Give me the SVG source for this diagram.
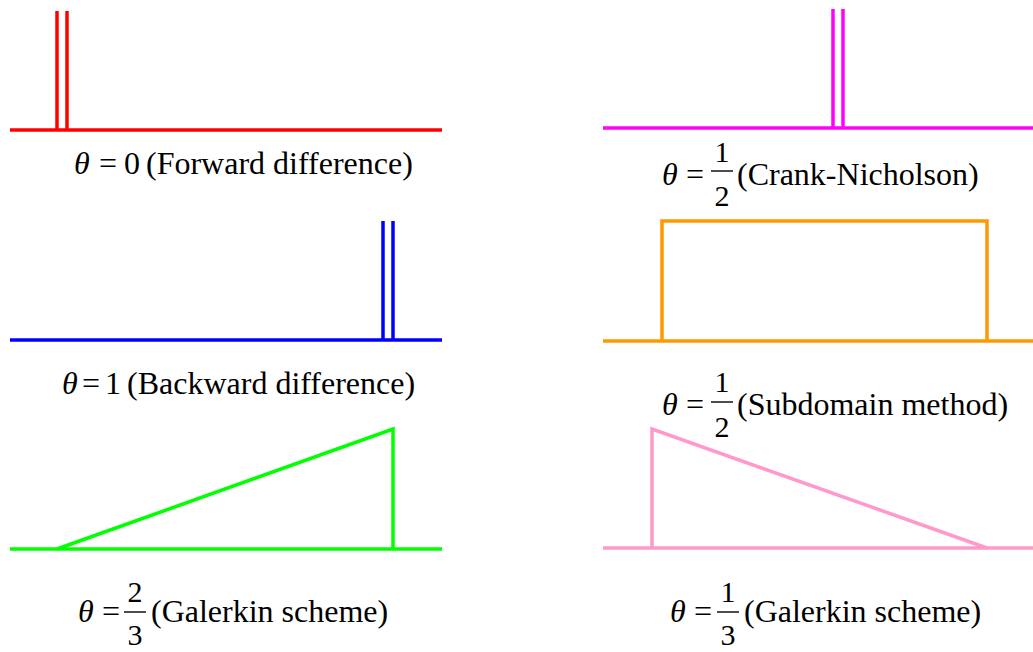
<svg xmlns="http://www.w3.org/2000/svg" width="1033" height="652" viewBox="0 0 1033 652">
<style>
  .ln { fill: none; stroke-width: 3.5; stroke-linecap: butt; stroke-linejoin: miter; }
  .t { font-family: "Liberation Serif", "Times New Roman", serif; font-size: 32px; fill: #000; }
  .th { font-family: "Liberation Serif", "Times New Roman", serif; font-size: 32px; font-style: italic; fill: #000; }
  .fr { font-family: "Liberation Serif", "Times New Roman", serif; font-size: 30px; fill: #000; text-anchor: middle; }
  .bar { stroke: #000; stroke-width: 1.4; }
</style>
<rect width="1033" height="652" fill="#fff"/>

<g id="connectors">
  <g id="plot-forward">
    <line class="ln" stroke="#ff0000" x1="10" y1="130" x2="442" y2="130"/>
    <line class="ln" stroke="#ff0000" x1="57" y1="11" x2="57" y2="130"/>
    <line class="ln" stroke="#ff0000" x1="67" y1="11" x2="67" y2="130"/>
  </g>
  <g id="plot-backward">
    <line class="ln" stroke="#0000ff" x1="10" y1="340" x2="442" y2="340"/>
    <line class="ln" stroke="#0000ff" x1="383" y1="221" x2="383" y2="340"/>
    <line class="ln" stroke="#0000ff" x1="393" y1="221" x2="393" y2="340"/>
  </g>
  <g id="plot-galerkin23">
    <line class="ln" stroke="#00ff00" x1="10" y1="549" x2="442" y2="549"/>
    <polyline class="ln" stroke="#00ff00" points="57,549 393,429 393,549"/>
  </g>
  <g id="plot-crank">
    <line class="ln" stroke="#ff00ff" x1="603" y1="128" x2="1033" y2="128"/>
    <line class="ln" stroke="#ff00ff" x1="833" y1="9" x2="833" y2="128"/>
    <line class="ln" stroke="#ff00ff" x1="843" y1="9" x2="843" y2="128"/>
  </g>
  <g id="plot-subdomain">
    <line class="ln" stroke="#ff9900" x1="603" y1="341" x2="1033" y2="341"/>
    <polyline class="ln" stroke="#ff9900" points="662,341 662,221 987,221 987,341"/>
  </g>
  <g id="plot-galerkin13">
    <line class="ln" stroke="#ff99cc" x1="603" y1="548" x2="1033" y2="548"/>
    <polyline class="ln" stroke="#ff99cc" points="652,548 652,429 987,548"/>
  </g>
</g>

<g id="label-forward">
  <text class="th" x="74" y="174">θ</text>
  <text class="t" x="99" y="174">=</text>
  <text class="t" x="124" y="174">0</text>
  <text class="t" x="146" y="174">(Forward difference)</text>
</g>

<g id="label-backward">
  <text class="th" x="62" y="394">θ</text>
  <text class="t" x="82" y="394">=</text>
  <text class="t" x="105" y="394">1</text>
  <text class="t" x="127" y="394">(Backward difference)</text>
</g>

<g id="label-galerkin23">
  <text class="th" x="78" y="622">θ</text>
  <text class="t" x="102" y="622">=</text>
  <text class="fr" x="135" y="602">2</text>
  <line class="bar" x1="124" y1="612" x2="146" y2="612"/>
  <text class="fr" x="135" y="645">3</text>
  <text class="t" x="151" y="622">(Galerkin scheme)</text>
</g>

<g id="label-crank">
  <text class="th" x="662" y="185">θ</text>
  <text class="t" x="686" y="185">=</text>
  <text class="fr" x="722" y="162">1</text>
  <line class="bar" x1="711" y1="171" x2="733" y2="171"/>
  <text class="fr" x="722" y="206">2</text>
  <text class="t" x="737" y="185">(Crank-Nicholson)</text>
</g>

<g id="label-subdomain">
  <text class="th" x="662" y="415">θ</text>
  <text class="t" x="686" y="415">=</text>
  <text class="fr" x="722" y="392">1</text>
  <line class="bar" x1="711" y1="402" x2="733" y2="402"/>
  <text class="fr" x="722" y="437">2</text>
  <text class="t" x="737" y="415">(Subdomain method)</text>
</g>

<g id="label-galerkin13">
  <text class="th" x="670" y="622">θ</text>
  <text class="t" x="694" y="622">=</text>
  <text class="fr" x="728" y="602">1</text>
  <line class="bar" x1="717" y1="612" x2="739" y2="612"/>
  <text class="fr" x="728" y="645">3</text>
  <text class="t" x="744" y="622">(Galerkin scheme)</text>
</g>
</svg>
